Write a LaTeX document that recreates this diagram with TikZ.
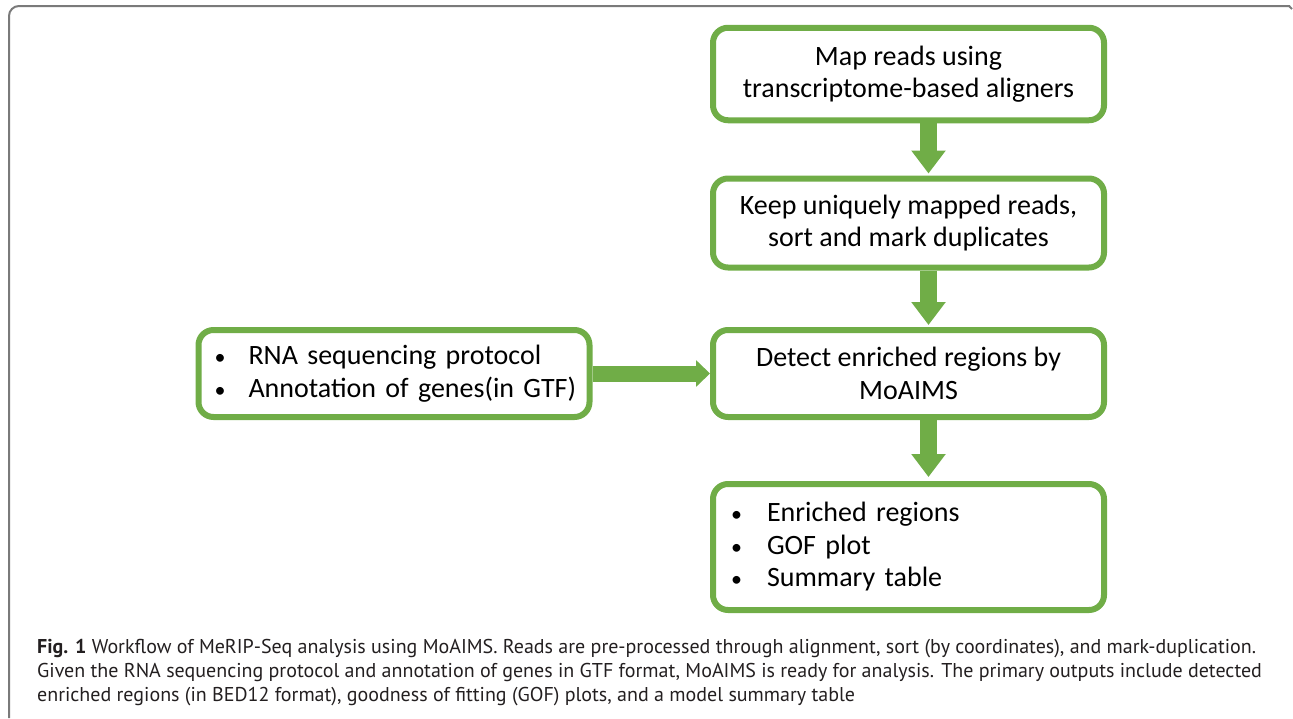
\documentclass[tikz,border=0pt]{standalone}
\usepackage{fontspec}
\setmainfont{Carlito}
\newfontfamily\capfont{PT Sans}
\usetikzlibrary{arrows.meta}
\definecolor{boxgreen}{HTML}{70AD47}
\definecolor{framegray}{HTML}{7A7A7A}
\definecolor{captext}{HTML}{231F20}
\newcommand{\bulletitem}[2]{\mbox{\makebox[#1][l]{\fontsize{22}{22}\selectfont•}#2}}
\begin{document}
\begin{tikzpicture}[x=1pt,y=-1pt,
  flowbox/.style={draw=boxgreen, line width=6pt, rounded corners=15pt, fill=white,
    align=center, font=\fontsize{28}{32.5}\selectfont, inner sep=0pt,
    minimum width=391pt},
  listbox/.style={flowbox, align=left, inner xsep=#1, text width=391pt-2*#1},
  blockarrow/.style={draw=boxgreen, line width=17pt, -{Triangle[width=33pt,length=23pt]}},
  sidearrow/.style={draw=boxgreen, line width=16pt, -{Triangle[width=26pt,length=14pt]}},
  captionstyle/.style={font=\capfont\fontsize{20}{24}\selectfont, text=captext,
    align=left, inner sep=0pt, anchor=north west},
]
\useasboundingbox (0,0) rectangle (1293,718);
% outer frame
\draw[framegray, line width=2pt, rounded corners=10pt] (9,718) -- (9,6) -- (1290,6);
\draw[framegray, line width=2pt] (1289,6) -- (1292,9);

% boxes
\node[flowbox, minimum height=92.5pt] (map) at (908.5,74) {Map reads using\\transcriptome-based aligners};
\node[flowbox, minimum height=89pt] (keep) at (908.5,223) {Keep uniquely mapped reads,\\sort and mark duplicates};
\node[flowbox, minimum height=87pt] (detect) at (908.5,373.5) {Detect enriched regions by\\MoAIMS};
\node[listbox=16pt, minimum height=87pt] (input) at (394,373.5)
  {\bulletitem{34pt}{RNA sequencing protocol}\\\bulletitem{34pt}{Annotation of genes(in GTF)}};
\node[listbox=18pt, minimum height=126pt] (output) at (908.5,547)
  {\bulletitem{36pt}{Enriched regions}\\\bulletitem{36pt}{GOF plot}\\\bulletitem{36pt}{Summary table}};

% arrows
\draw[blockarrow, shorten >=2pt] ([xshift=20pt]map.south) -- ([xshift=20pt]keep.north);
\draw[blockarrow, shorten >=2pt] ([xshift=20pt]keep.south) -- ([xshift=20pt]detect.north);
\draw[blockarrow, shorten >=4pt] ([xshift=20pt]detect.south) -- ([xshift=20pt]output.north);
\draw[sidearrow] (input.east) -- (detect.west);

% caption
\node[captionstyle] (caption) at (37,639) {\textbf{Fig. 1} Workflow of MeRIP-Seq analysis using MoAIMS. Reads are pre-processed through alignment, sort (by coordinates), and mark-duplication.\\
Given the RNA sequencing protocol and annotation of genes in GTF format, MoAIMS is ready for analysis. The primary outputs include detected\\
enriched regions (in BED12 format), goodness of fitting (GOF) plots, and a model summary table};
\end{tikzpicture}
\end{document}
